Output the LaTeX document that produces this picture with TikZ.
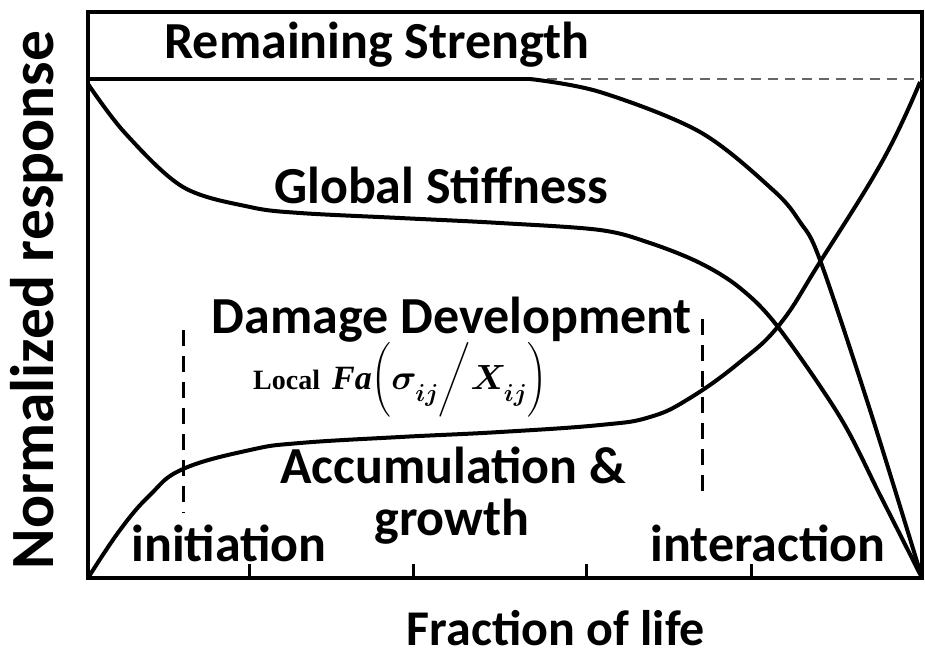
\RequirePackage{fix-cm}
\documentclass[tikz,border=0pt]{standalone}
\usepackage{fontspec}
\usepackage{amsmath}
\newfontfamily\labelfont{Carlito}
\newfontfamily\formfont{Liberation Serif}
\newcommand{\subind}{\lower7pt\hbox{$\scriptstyle ij$}}
\newcommand{\formulalocal}{%
  {\formfont\bfseries\fontsize{28}{30}\selectfont Local\hspace{12pt}{\fontsize{34}{36}\selectfont\textit{Fa}}}%
  {\fontsize{35}{38}\selectfont\boldmath$\left(\rule[-28pt]{0pt}{68pt}\sigma_{\subind}\middle/X_{\subind}\right)$}}
\begin{document}
\begin{tikzpicture}[x=1pt,y=-1pt,
    etiqueta/.style={font=\labelfont\bfseries\fontsize{52}{56}\selectfont, inner sep=0pt},
    curva/.style={line width=4pt, line join=round},
    limite/.style={line width=3pt, dash pattern=on 16pt off 10pt}]
    \useasboundingbox (0,0) rectangle (925,662);

    % Marco y marcas del eje
    \draw[line width=3.5pt] (88,12) rectangle (922,578);
    \foreach \t in {249,413,586,751}
        \draw[line width=3pt] (\t,578) -- (\t,564);

    % Resistencia remanente
    \draw[curva] (88,79) -- (530,79);
    \draw[line width=1.8pt, gray!80!black, dash pattern=on 10pt off 7pt] (530,79) -- (922,79);
    \draw[curva] plot[smooth, tension=0.55] coordinates {(530,79) (600,92) (700,132) (773,190) (800,222) (820,260) (870,410) (922,578)};

    % Rigidez global
    \draw[curva] plot[smooth, tension=0.55] coordinates {(88,84) (125,133) (183,187) (250,207) (300,213) (400,218) (500,223) (600,230) (650,243) (700,263) (740,288) (778,327) (840,417) (880,495) (922,578)};

    % Desarrollo del daño
    \draw[curva] plot[smooth, tension=0.7] coordinates {(88,578) (120,530) (150,495) (183,469) (250,450) (300,443) (400,437) (500,432) (600,425) (650,417) (690,398) (740,362) (780,324) (820,262) (883,160) (920,82)};

    % Limites de las etapas
    \draw[limite] (183,330) -- (183,513);
    \draw[limite] (702,319) -- (702,493);

    % Etiquetas
    \node[etiqueta] (resistencia) at (377,45) {Remaining Strength};
    \node[etiqueta] (rigidez) at (441,185) {Global Stiffness};
    \node[etiqueta] (dano) at (452,320) {Damage Development};
    \node[inner sep=0pt, anchor=base west] (formula) at (253,389) {\formulalocal};
    \node[etiqueta] (acumulacion) at (453,465) {Accumulation \&};
    \node[etiqueta] (crecimiento) at (452,522) {growth};
    \node[etiqueta] (iniciacion) at (229,543) {initiation};
    \node[etiqueta] (interaccion) at (768,543) {interaction};
    \node[etiqueta, font=\labelfont\bfseries\fontsize{50}{54}\selectfont] (fraccion) at (556,628) {Fraction of life};
    \node[etiqueta, font=\labelfont\bfseries\fontsize{61.5}{64}\selectfont, rotate=90] (respuesta) at (37,300) {Normalized response};
\end{tikzpicture}
\end{document}
